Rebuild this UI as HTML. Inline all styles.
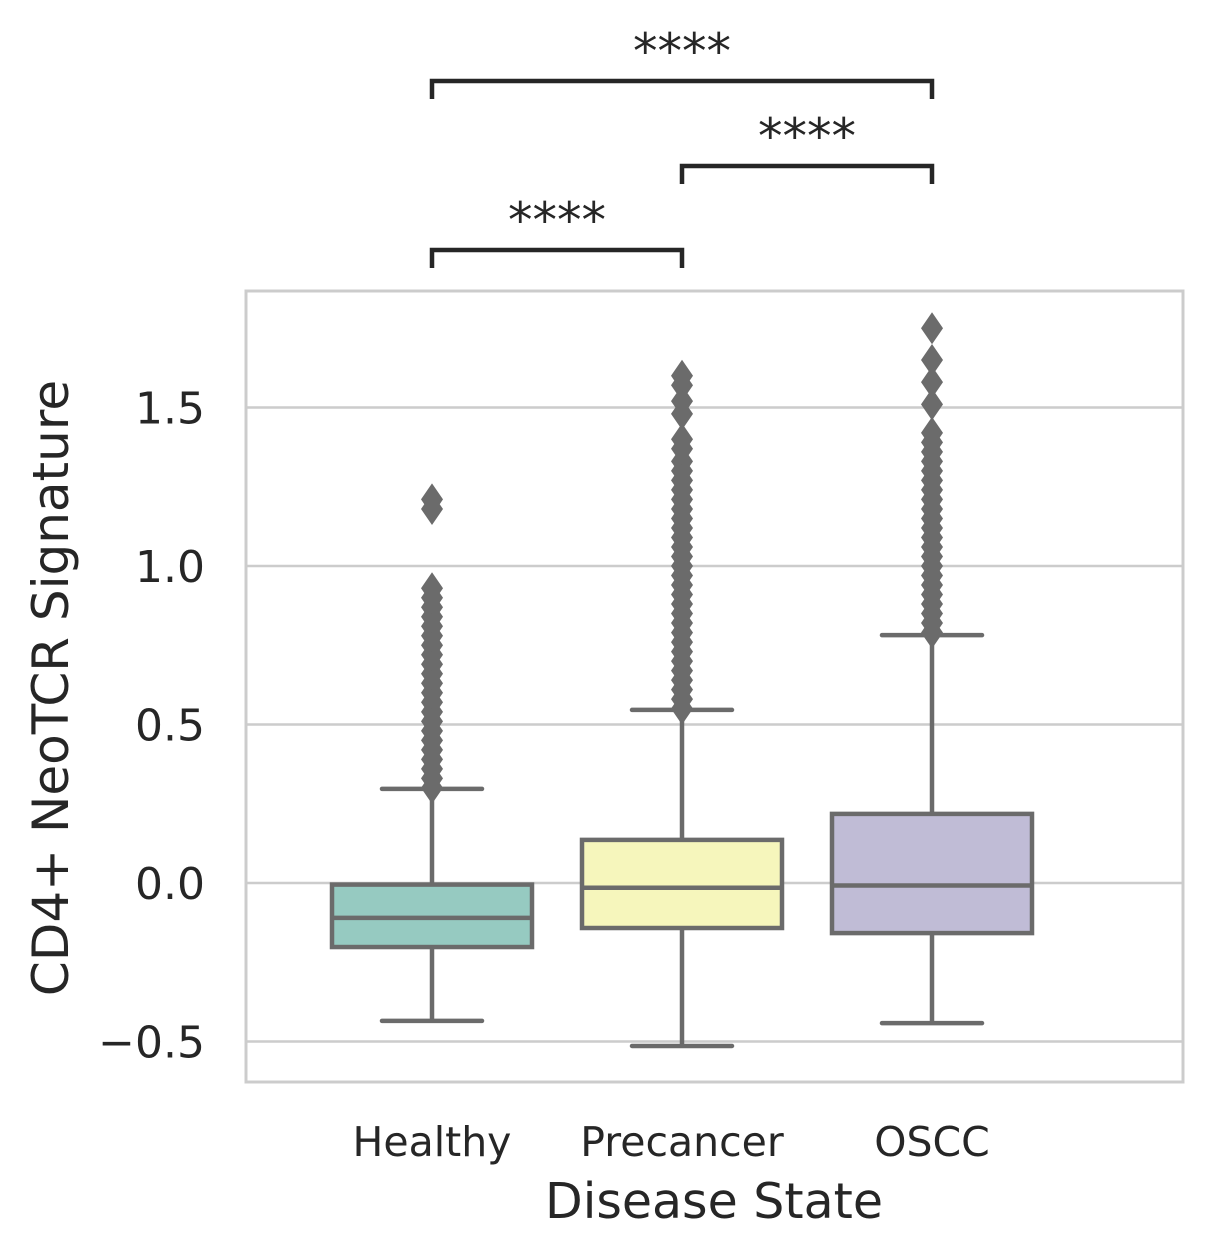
<!DOCTYPE html>
<html><head><meta charset="utf-8"><style>
html,body{margin:0;padding:0;background:#fff;}
svg{display:block;font-family:"DejaVu Sans","Liberation Sans",sans-serif;}
</style></head><body>
<svg id="chart" width="1211" height="1259" viewBox="0 0 1211 1259">
<rect x="246" y="291" width="937" height="791" fill="#fff" stroke="#cccccc" stroke-width="3"/>
<g id="grid"></g><g id="boxes"></g><g id="yticks"></g><g id="xticks"></g><g id="brackets"></g>
<text x="714" y="1218" font-size="49" fill="#262626" text-anchor="middle">Disease State</text>
<text transform="translate(68,688) rotate(-90)" font-size="50" fill="#262626" text-anchor="middle">CD4+ NeoTCR Signature</text>
</svg>
<script>
const categories = ["Healthy","Precancer","OSCC"];
const q1Values = [-0.202,-0.142,-0.158];
const medianValues = [-0.11,-0.015,-0.008];
const q3Values = [-0.005,0.136,0.218];
const whiskerLow = [-0.435,-0.514,-0.442];
const whiskerHigh = [0.297,0.546,0.782];
const boxColors = ["#96cac1","#f6f6bc","#c0bcd6"];
const outliersHealthy = [0.30,0.33,0.36,0.39,0.42,0.45,0.48,0.51,0.54,0.57,0.60,0.63,0.66,0.69,0.72,0.75,0.78,0.81,0.84,0.87,0.90,0.93,1.18,1.21];
const outliersPrecancer = [0.55,0.58,0.61,0.64,0.67,0.70,0.73,0.76,0.79,0.82,0.85,0.88,0.91,0.94,0.97,1.00,1.03,1.06,1.09,1.12,1.15,1.18,1.21,1.24,1.27,1.30,1.33,1.37,1.40,1.48,1.52,1.57,1.60];
const outliersOSCC = [0.79,0.82,0.85,0.88,0.91,0.94,0.97,1.00,1.03,1.06,1.09,1.12,1.15,1.18,1.21,1.24,1.27,1.30,1.33,1.36,1.39,1.42,1.51,1.58,1.65,1.75];
const yTicks = [-0.5,0,0.5,1.0,1.5];
const yTickLabels = ["\u22120.5","0.0","0.5","1.0","1.5"];
const sigPairs = [[0,1],[1,2],[0,2]];
const sigLabels = ["****","****","****"];

const NS="http://www.w3.org/2000/svg";
const y = v => 883 - v*317;
const x = i => 432 + i*250;
const BW = 200;
function mk(tag, attrs, parent){const e=document.createElementNS(NS,tag);for(const k in attrs)e.setAttribute(k,attrs[k]);parent.appendChild(e);return e;}
const grid=document.getElementById('grid'), boxes=document.getElementById('boxes'), yt=document.getElementById('yticks'), xt=document.getElementById('xticks'), br=document.getElementById('brackets');
yTicks.forEach((v,i)=>{
  const l=mk('line',{x1:247,x2:1182,y1:y(v),y2:y(v),stroke:'#cccccc','stroke-width':2.5},grid);
  
  
  const t=mk('text',{x:205,y:y(v)+16,'font-size':44,fill:'#262626','text-anchor':'end'},yt);
  t.textContent=yTickLabels[i];
  
  
});
const outs=[outliersHealthy,outliersPrecancer,outliersOSCC];
const G='#6b6b6b';
categories.forEach((c,i)=>{
  const cx=x(i);
  const g=mk('g',{},boxes);
  
  
  mk('line',{x1:cx,x2:cx,y1:y(q1Values[i]),y2:y(whiskerLow[i]),stroke:G,'stroke-width':4.5},g);
  mk('line',{x1:cx,x2:cx,y1:y(q3Values[i]),y2:y(whiskerHigh[i]),stroke:G,'stroke-width':4.5},g);
  mk('line',{x1:cx-50,x2:cx+50,y1:y(whiskerLow[i]),y2:y(whiskerLow[i]),stroke:G,'stroke-width':4.5,'stroke-linecap':'round'},g);
  mk('line',{x1:cx-50,x2:cx+50,y1:y(whiskerHigh[i]),y2:y(whiskerHigh[i]),stroke:G,'stroke-width':4.5,'stroke-linecap':'round'},g);
  mk('rect',{x:cx-BW/2,y:y(q3Values[i]),width:BW,height:y(q1Values[i])-y(q3Values[i]),fill:boxColors[i],stroke:G,'stroke-width':4.5},g);
  mk('line',{x1:cx-BW/2,x2:cx+BW/2,y1:y(medianValues[i]),y2:y(medianValues[i]),stroke:G,'stroke-width':4.5},g);
  outs[i].forEach(v=>{
    const yy=y(v);
    const d=mk('path',{d:`M${cx} ${yy-16} L${cx+11} ${yy} L${cx} ${yy+16} L${cx-11} ${yy} Z`,fill:G},g);
    
    
  });
  const t=mk('text',{x:cx,y:1156,'font-size':41,fill:'#262626','text-anchor':'middle'},xt);
  t.textContent=c;
  
  
});
const levels=[250,166,81];
sigPairs.forEach((p,k)=>{
  const yy=levels[k], x1=x(p[0]), x2=x(p[1]);
  const pl=mk('path',{d:`M${x1} ${yy+18} L${x1} ${yy} L${x2} ${yy} L${x2} ${yy+18}`,fill:'none',stroke:'#262626','stroke-width':4.5},br);
  
  
  const t=mk('text',{x:(x1+x2)/2,y:yy-13,'font-size':49,fill:'#262626','text-anchor':'middle'},br);
  t.textContent=sigLabels[k];
  
  
});
</script>
</body></html>
